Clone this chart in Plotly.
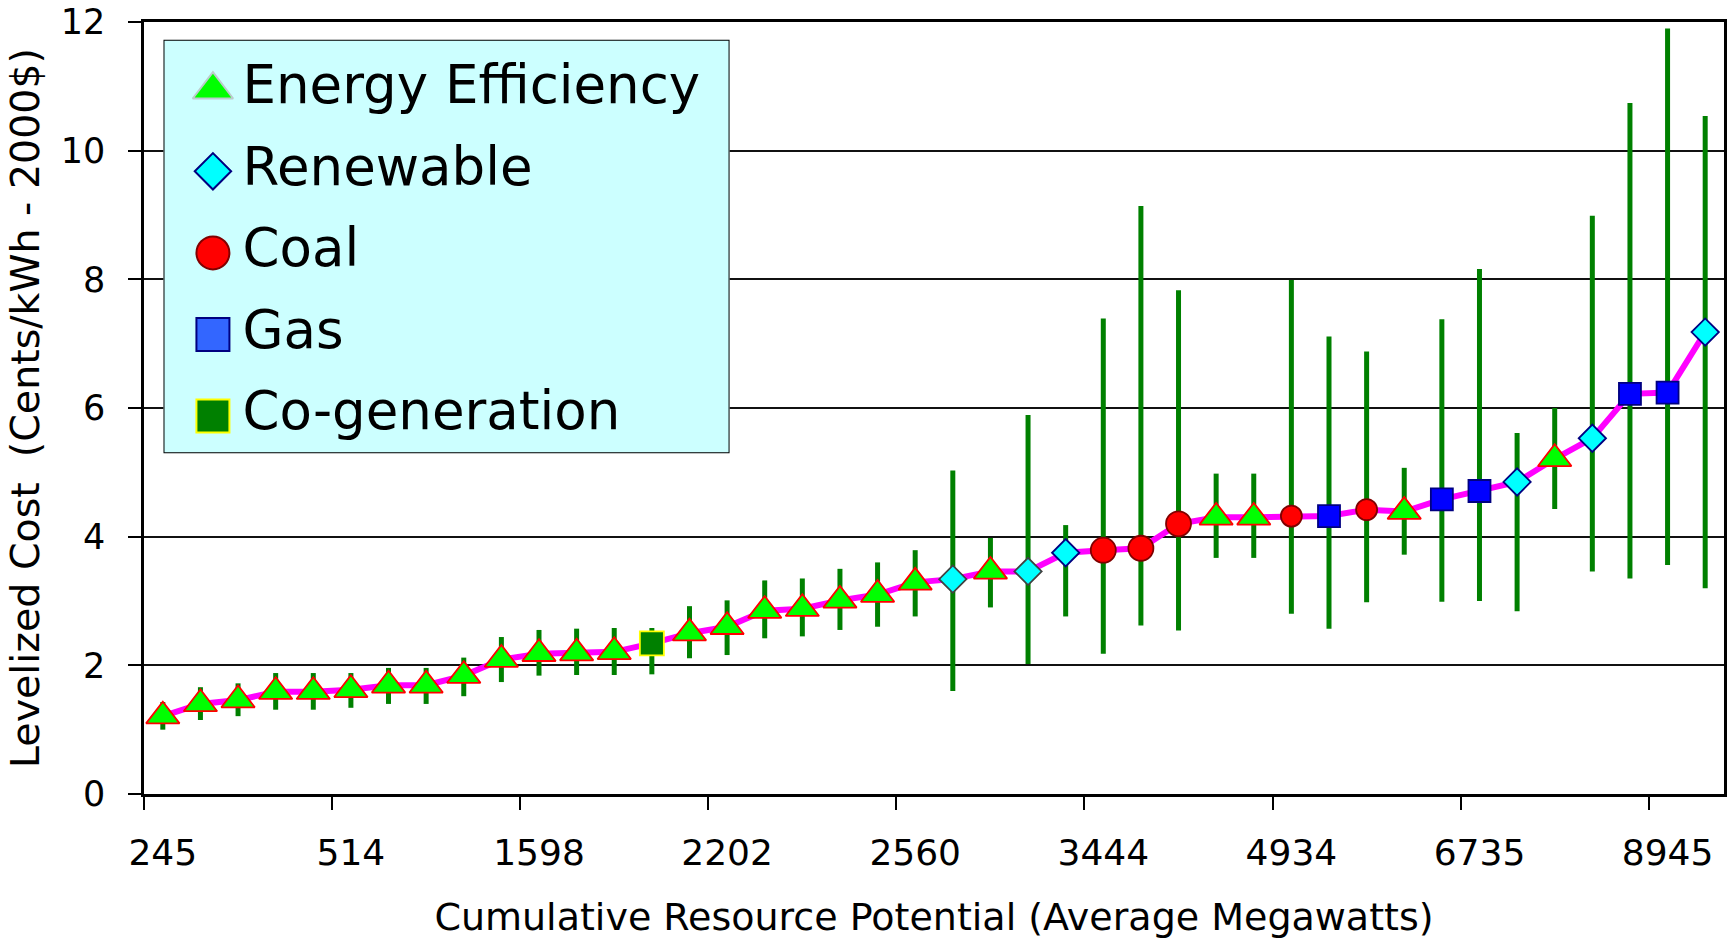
import plotly.graph_objects as go

# Resource blocks ordered by levelized cost (supply curve)
resource_type = (
    ["Energy Efficiency"] * 13
    + ["Co-generation"]
    + ["Energy Efficiency"] * 7
    + ["Renewable", "Energy Efficiency", "Renewable", "Renewable",
       "Coal", "Coal", "Coal", "Energy Efficiency", "Energy Efficiency",
       "Coal", "Gas", "Coal", "Energy Efficiency", "Gas", "Gas",
       "Renewable", "Energy Efficiency", "Renewable", "Gas", "Gas", "Renewable"]
)

# Levelized cost (cents/kWh, 2000$) and its uncertainty range
levelized_cost = [1.21, 1.40, 1.46, 1.59, 1.59, 1.62, 1.69, 1.69, 1.84, 2.09,
                  2.18, 2.19, 2.21, 2.34, 2.50, 2.60, 2.85, 2.88, 3.01, 3.10,
                  3.29, 3.34, 3.46, 3.46, 3.75, 3.79, 3.82, 4.20, 4.30, 4.30,
                  4.32, 4.32, 4.42, 4.39, 4.58, 4.71, 4.85, 5.21, 5.53, 6.22,
                  6.24, 7.18]
cost_low = [1.00, 1.15, 1.21, 1.31, 1.31, 1.34, 1.40, 1.40, 1.52, 1.74,
            1.84, 1.85, 1.85, 1.86, 2.11, 2.16, 2.42, 2.45, 2.55, 2.60,
            2.76, 1.60, 2.90, 2.02, 2.76, 2.18, 2.62, 2.54, 3.67, 3.67,
            2.80, 2.57, 2.98, 3.72, 2.99, 3.00, 2.84, 4.43, 3.46, 3.35,
            3.56, 3.20]
cost_high = [1.43, 1.66, 1.72, 1.88, 1.88, 1.88, 1.96, 1.96, 2.12, 2.44,
             2.55, 2.57, 2.58, 2.58, 2.92, 3.01, 3.32, 3.35, 3.50, 3.60,
             3.79, 5.03, 3.98, 5.89, 4.18, 7.39, 9.14, 7.83, 4.98, 4.98,
             7.99, 7.11, 6.88, 5.07, 7.38, 8.16, 5.61, 6.00, 8.99, 10.74,
             11.90, 10.54]

# Cumulative potential (average MW), labelled on every fifth block
tick_labels = ["245", "514", "1598", "2202", "2560", "3444", "4934", "6735", "8945"]
label_every = 5

legend_order = ["Energy Efficiency", "Renewable", "Coal", "Gas", "Co-generation"]

# ---- styling -------------------------------------------------------------
FONT = "DejaVu Sans"
style = {
    "Energy Efficiency": dict(symbol="triangle-up", size=29, fill="#00FF00", edge="#FF0000"),
    "Renewable": dict(symbol="diamond", size=21, fill="#00FFFF", edge="#000080"),
    "Coal": dict(symbol="circle", size=25, fill="#FF0000", edge="#800000"),
    "Gas": dict(symbol="square", size=22, fill="#0000FF", edge="#000080"),
    "Co-generation": dict(symbol="square", size=24, fill="#008000", edge="#FFFF00"),
}
legend_style = {
    "Energy Efficiency": dict(symbol="triangle-up", size=35, fill="#00FF00", edge="#BBCCCC"),
    "Renewable": dict(symbol="diamond", size=28, fill="#00FFFF", edge="#000080"),
    "Coal": dict(symbol="circle", size=33, fill="#FF0000", edge="#800000"),
    "Gas": dict(symbol="square", size=33, fill="#3366FF", edge="#000080"),
    "Co-generation": dict(symbol="square", size=33, fill="#008000", edge="#FFFF00"),
}
# a few blocks are drawn with smaller circles / grey-edged diamonds
size_override = {30: 21, 32: 21}
edge_override = {21: "#404040", 23: "#404040"}

n = len(levelized_cost)
xs = list(range(n))
sym = [style[t]["symbol"] for t in resource_type]
size = [size_override.get(i, style[t]["size"]) for i, t in enumerate(resource_type)]
fill = [style[t]["fill"] for t in resource_type]
edge = [edge_override.get(i, style[t]["edge"]) for i, t in enumerate(resource_type)]

fig = go.Figure()

# supply-curve line
fig.add_trace(go.Scatter(
    x=xs, y=levelized_cost, mode="lines",
    line=dict(color="#FF00FF", width=6), showlegend=False, hoverinfo="skip",
))

# uncertainty range of each block
fig.add_trace(go.Scatter(
    x=xs, y=levelized_cost, mode="markers",
    marker=dict(size=1, color="rgba(0,0,0,0)"),
    error_y=dict(
        type="data", symmetric=False,
        array=[h - v for h, v in zip(cost_high, levelized_cost)],
        arrayminus=[v - l for l, v in zip(cost_low, levelized_cost)],
        color="#008000", thickness=5, width=0,
    ),
    showlegend=False, hoverinfo="skip",
))

# resource markers
fig.add_trace(go.Scatter(
    x=xs, y=levelized_cost, mode="markers",
    marker=dict(symbol=sym, size=size, color=fill, opacity=1,
                line=dict(color=edge, width=1.8)),
    text=resource_type, showlegend=False,
))

# legend panel drawn on its own small axes
fig.add_trace(go.Scatter(
    x=[0] * len(legend_order), y=list(range(len(legend_order))),
    mode="markers", xaxis="x3", yaxis="y3",
    marker=dict(
        symbol=[legend_style[k]["symbol"] for k in legend_order],
        size=[legend_style[k]["size"] for k in legend_order],
        color=[legend_style[k]["fill"] for k in legend_order],
        opacity=1,
        line=dict(color=[legend_style[k]["edge"] for k in legend_order], width=2),
    ),
    showlegend=False, hoverinfo="skip",
))
fig.add_trace(go.Scatter(
    x=[0.85] * len(legend_order), y=list(range(len(legend_order))),
    mode="text", text=legend_order, textposition="middle right",
    textfont=dict(family=FONT, size=53, color="black"),
    xaxis="x3", yaxis="y3", showlegend=False, hoverinfo="skip",
))

bounds = [i * label_every - 0.5 for i in range(len(tick_labels))]
LX = [-1.42, 14.84]
LY = [4.457, -0.612]

fig.update_layout(
    width=1732, height=939,
    margin=dict(l=144, r=8, t=22, b=145, autoexpand=False),
    paper_bgcolor="white", plot_bgcolor="white",
    font=dict(family=FONT, color="black"),
    showlegend=False,
    xaxis=dict(
        range=[-0.5, n - 0.5],
        tickmode="array",
        tickvals=[i * label_every for i in range(len(tick_labels))],
        ticktext=tick_labels,
        ticks="", ticklabelstandoff=25,
        tickfont=dict(family=FONT, size=36),
        minor=dict(tickmode="array", tickvals=bounds, ticks="outside",
                   ticklen=13, tickwidth=2, tickcolor="black", showgrid=False),
        showgrid=False, zeroline=False,
        showline=True, linecolor="black", linewidth=2.5, mirror=True,
        title=dict(text="Cumulative Resource Potential (Average Megawatts)",
                   font=dict(family=FONT, size=38), standoff=35),
    ),
    xaxis2=dict(
        overlaying="x", matches="x", anchor="y", side="bottom",
        range=[-0.5, n - 0.5],
        tickmode="array", tickvals=bounds, ticks="inside",
        ticklen=12, tickwidth=2, tickcolor="black",
        showticklabels=False, showgrid=False, zeroline=False, showline=False,
    ),
    yaxis=dict(
        range=[0, 12], dtick=2, tick0=0,
        ticks="outside", ticklen=13, tickwidth=2, tickcolor="black",
        tickfont=dict(family=FONT, size=35), ticklabelstandoff=16,
        showgrid=True, gridcolor="#111111", gridwidth=1.6,
        zeroline=False,
        showline=True, linecolor="black", linewidth=2.5, mirror=True,
        title=dict(text="Levelized Cost\u00a0\u00a0(Cents/kWh - 2000$)",
                   font=dict(family=FONT, size=39.5), standoff=9),
    ),
    xaxis3=dict(domain=[0.01234, 0.3706], range=LX, anchor="y3",
                visible=False, fixedrange=True),
    yaxis3=dict(domain=[0.4413, 0.9769], range=LY, anchor="x3",
                visible=False, fixedrange=True),
    shapes=[dict(type="rect", xref="x3", yref="y3",
                 x0=LX[0], x1=LX[1], y0=LY[0], y1=LY[1], fillcolor="#CCFFFF",
                 line=dict(color="black", width=2), layer="below")],
)

fig.write_html("out.html")
